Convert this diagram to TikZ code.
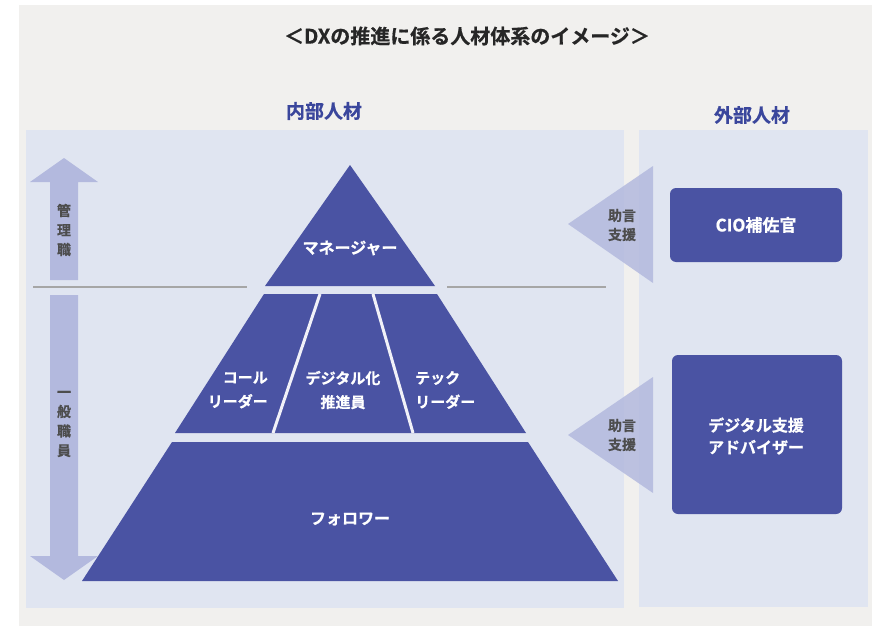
\documentclass[tikz,border=0pt]{standalone}
\usepackage{fontspec}
\newfontfamily\jp{Noto Sans CJK JP}[UprightFont=* Bold, FakeBold=0.6]
\definecolor{bgGray}{HTML}{F1F0EE}
\definecolor{panelC}{HTML}{E0E5F1}
\definecolor{pyrC}{HTML}{4A53A3}
\definecolor{arrowC}{HTML}{B3B9DE}
\definecolor{headBlue}{HTML}{3A469C}
\definecolor{txtGray}{HTML}{4D4D4D}
\definecolor{lineGray}{HTML}{A6A6A6}
\begin{document}
\begin{tikzpicture}[x=1pt,y=-1pt,
  pyr/.style={fill=pyrC},
  wtxt/.style={text=white,font=\jp\fontsize{16}{24}\selectfont,inner sep=0pt},
  gtxt/.style={text=txtGray,font=\jp\fontsize{14}{19}\selectfont,inner sep=0pt,align=center},
  vtxt/.style={text=txtGray,font=\jp\fontsize{14}{19.5}\selectfont,inner sep=0pt,align=center},
  head/.style={text=headBlue,font=\jp\fontsize{19}{22}\selectfont,inner sep=0pt},
  callout/.style={fill=arrowC,fill opacity=0.85},
  vbar/.style={fill=arrowC},
  sepline/.style={draw=lineGray,line width=2pt},
  divline/.style={draw=white!92!pyrC,line width=3pt},
  boxC/.style={fill=pyrC,rounded corners=6pt}]
\useasboundingbox (0,0) rectangle (872,626);
\fill[white] (0,0) rectangle (872,626);
\fill[bgGray] (19,5) rectangle (872,626);
% panels
\fill[panelC] (26,130) rectangle (624,608);
\fill[panelC] (639,130) rectangle (868,607);
% title and headings
\node[font=\jp\fontsize{20}{22}\selectfont,text=black!85,inner sep=0pt] (title) at (467,36) {＜DXの推進に係る人材体系のイメージ＞};
\node[head] (inner) at (324,111) {内部人材};
\node[head] (outer) at (752,115) {外部人材};
% left arrows
\fill[vbar] (50,280) -- (50,182) -- (30,182) -- (64,158) -- (98,182) -- (78,182) -- (78,280) -- cycle;
\fill[vbar] (50,295) -- (50,556) -- (30,556) -- (64,580) -- (98,556) -- (78,556) -- (78,295) -- cycle;
\node[vtxt] (kanri) at (64,230) {管\\理\\職};
\node[vtxt] (ippan) at (64,424) {一\\般\\職\\員};
% separator lines
\draw[sepline] (33,287) -- (247,287);
\draw[sepline] (447,287) -- (606,287);
% pyramid
\fill[pyr] (350,165) -- (435,286) -- (265,286) -- cycle;
\fill[pyr] (264,294) -- (437,294) -- (526,433) -- (175,433) -- cycle;
\draw[divline] (320,294) -- (273,433);
\draw[divline] (373,294) -- (413,433);
\fill[pyr] (172,442) -- (528,442) -- (618,581) -- (82,581) -- cycle;
\node[wtxt] (mgr) at (350,248) {マネージャー};
\node[wtxt,font=\jp\fontsize{15}{24}\selectfont,align=right,anchor=east] (call) at (268,390) {コール\\リーダー};
\node[wtxt,font=\jp\fontsize{15}{24}\selectfont,align=center] (digi) at (343,390) {デジタル化\\推進員};
\node[wtxt,font=\jp\fontsize{15}{24}\selectfont,align=left,anchor=west] (tech) at (415,390) {テック\\リーダー};
\node[wtxt] (follow) at (350,519) {フォロワー};
% callouts
\fill[callout] (568,224) -- (653,166) -- (653,283) -- cycle;
\fill[callout] (568,435) -- (653,377) -- (653,493) -- cycle;
\node[gtxt] (adv1) at (622,225) {助言\\支援};
\node[gtxt] (adv2) at (622,435) {助言\\支援};
% boxes
\fill[boxC] (670,188) rectangle (842,262);
\fill[boxC] (672,355) rectangle (842,514);
\node[wtxt,font=\jp\fontsize{17}{24}\selectfont] (cio) at (756,225) {CIO補佐官};
\node[wtxt,align=center,font=\jp\fontsize{16}{22}\selectfont] (dsa) at (756,436) {デジタル支援\\アドバイザー};
\end{tikzpicture}
\end{document}
